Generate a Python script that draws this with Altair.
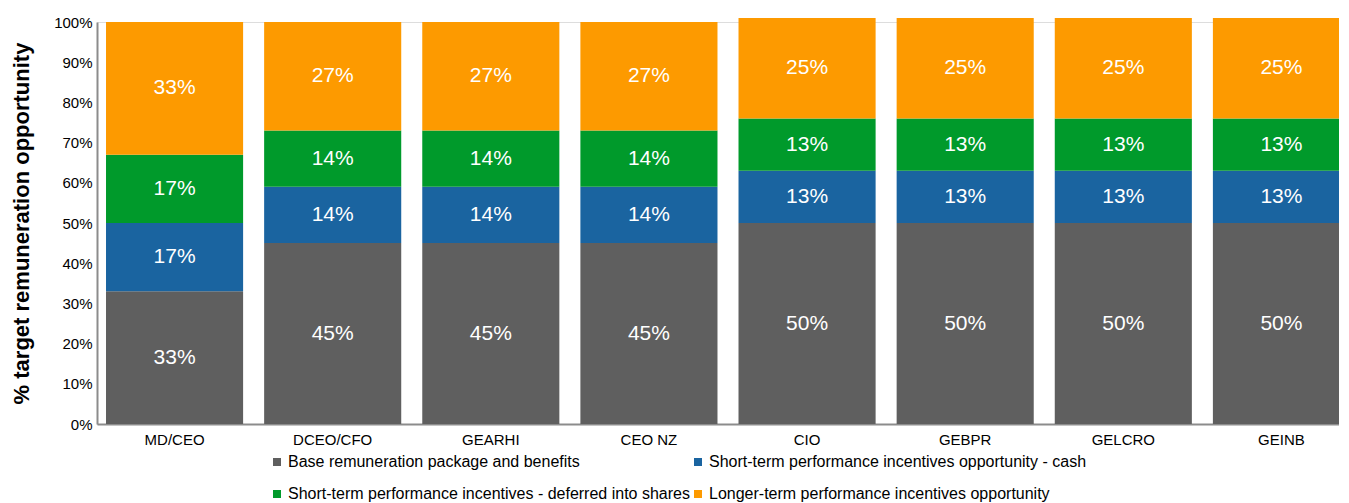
import altair as alt
import pandas as pd

roles = ["MD/CEO", "DCEO/CFO", "GEARHI", "CEO NZ", "CIO", "GEBPR", "GELCRO", "GEINB"]
series = [
    "Base remuneration package and benefits",
    "Short-term performance incentives opportunity - cash",
    "Short-term performance incentives - deferred into shares",
    "Longer-term performance incentives opportunity",
]
base = [33, 45, 45, 45, 50, 50, 50, 50]
st_cash = [17, 14, 14, 14, 13, 13, 13, 13]
st_deferred = [17, 14, 14, 14, 13, 13, 13, 13]
longer = [33, 27, 27, 27, 25, 25, 25, 25]
colors = ["#5F5F5F", "#1A64A0", "#009A2B", "#FD9A00"]

rows = []
for vals, s_i in zip([base, st_cash, st_deferred, longer], range(4)):
    for r, v in zip(roles, vals):
        rows.append({"role": r, "series": series[s_i], "order": s_i, "value": v / 100})
df = pd.DataFrame(rows)

FONT = "Liberation Sans"

basechart = alt.Chart(df).transform_stack(
    stack="value", groupby=["role"], as_=["y0", "y1"], sort=[alt.SortField("order", order="ascending")]
).transform_calculate(mid="(datum.y0 + datum.y1) / 2")

xenc = alt.X("role:N", sort=roles, title=None,
             scale=alt.Scale(paddingInner=0.133, paddingOuter=0.057),
             axis=alt.Axis(labelAngle=0, labelFont=FONT, labelFontSize=15, labelColor="#000000",
                           labelPadding=8, ticks=False, domainColor="#8C8C8C", domainWidth=2))

bars = basechart.mark_bar(clip=False).encode(
    x=xenc,
    y=alt.Y("y0:Q", title="% target remuneration opportunity",
            scale=alt.Scale(domain=[0, 1], nice=False, zero=True),
            axis=alt.Axis(format=".0%", values=[i / 10 for i in range(11)], ticks=False, grid=False,
                          labelFont=FONT, labelFontSize=15, labelColor="#000000", labelPadding=5,
                          titleFont=FONT, titleFontSize=22, titleFontWeight="bold", titleColor="#000000",
                          titlePadding=20, domainColor="#8C8C8C", domainWidth=2)),
    y2="y1:Q",
    color=alt.Color("series:N", sort=series,
                    scale=alt.Scale(domain=series, range=colors),
                    legend=alt.Legend(title=None, orient="none", legendX=172, legendY=432, columns=2,
                                      direction="horizontal",
                                      symbolType="square", symbolSize=64, symbolStrokeWidth=0,
                                      labelFont=FONT, labelFontSize=16, labelColor="#000000",
                                      labelLimit=600, rowPadding=16, columnPadding=-4,
                                      labelOffset=3, symbolOpacity=1)),
)

labels = basechart.mark_text(color="white", font=FONT, fontSize=21).encode(
    x=alt.X("role:N", sort=roles),
    y=alt.Y("mid:Q"),
    text=alt.Text("value:Q", format=".0%"),
)

chart = (bars + labels).properties(
    width=1262, height=402,
    autosize=alt.AutoSizeParams(type="none"),
    padding={"left": 89, "top": 14, "right": -20, "bottom": 79},
).configure_view(stroke=None).configure(background="white")

chart.save("out.html", embed_options={"renderer": "svg", "actions": False})
